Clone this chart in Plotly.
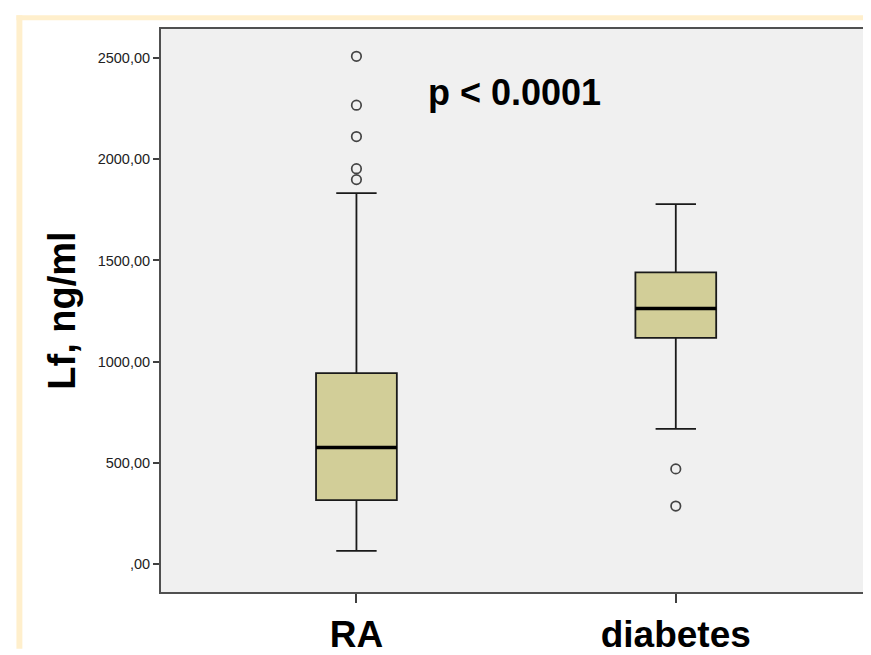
import plotly.graph_objects as go

# ---- data ----
categories = ["RA", "diabetes"]
q1_vals = [314, 1117]
median_vals = [575, 1262]
q3_vals = [943, 1441]
lower_whisker = [63, 667]
upper_whisker = [1833, 1779]

ra_outliers = [2510, 2268, 2113, 1954, 1900]
diabetes_outliers = [469, 285]

y_tickvals = [0, 500, 1000, 1500, 2000, 2500]
y_ticktext = [",00", "500,00", "1000,00", "1500,00", "2000,00", "2500,00"]

FONT = "Liberation Sans, Arial, sans-serif"

fig = go.Figure()

# main boxes
fig.add_trace(go.Box(
    x=categories,
    q1=q1_vals, median=median_vals, q3=q3_vals,
    lowerfence=lower_whisker, upperfence=upper_whisker,
    boxpoints=False,
    fillcolor="#D2CE98",
    line=dict(color="#1a1a1a", width=1.8),
    width=0.253,
    whiskerwidth=0.5,
    showlegend=False,
    hoverinfo="skip",
))

# thick median lines (degenerate boxes at the median)
fig.add_trace(go.Box(
    x=categories,
    q1=median_vals, median=median_vals, q3=median_vals,
    lowerfence=median_vals, upperfence=median_vals,
    boxpoints=False,
    fillcolor="rgba(0,0,0,0)",
    line=dict(color="#000000", width=3.5),
    width=0.253,
    whiskerwidth=1.0,
    showlegend=False,
    hoverinfo="skip",
))

# outliers
out_x = [categories[0]] * len(ra_outliers) + [categories[1]] * len(diabetes_outliers)
out_y = ra_outliers + diabetes_outliers
fig.add_trace(go.Scatter(
    x=out_x, y=out_y, mode="markers",
    marker=dict(symbol="circle-open", size=9.5, color="#444444", line=dict(width=1.7)),
    showlegend=False, hoverinfo="skip",
))

# light beige frame (top and left edges) - decoration
frame_col = "#FFEFCC"
fig.add_shape(type="rect", xref="paper", yref="paper",
              x0=-0.2042, x1=-0.1958, y0=-0.1007, y1=1.0243,
              fillcolor=frame_col, line=dict(width=0), layer="below")
fig.add_shape(type="rect", xref="paper", yref="paper",
              x0=-0.2042, x1=1.0113, y0=1.0156, y1=1.0243,
              fillcolor=frame_col, line=dict(width=0), layer="below")

fig.add_annotation(
    text="<b>p < 0.0001</b>", xref="paper", yref="paper",
    x=0.4986, y=0.887, xanchor="center", yanchor="middle",
    showarrow=False, font=dict(family=FONT, size=36, color="#000000"),
)

fig.update_layout(
    width=871, height=655,
    margin=dict(l=153, r=8, t=21, b=58),
    paper_bgcolor="#FFFFFF",
    plot_bgcolor="#F0F0F0",
    boxmode="overlay",
    font=dict(family=FONT, color="#000000"),
    xaxis=dict(
        type="category",
        range=[-0.612, 1.605],
        showgrid=False, zeroline=False,
        showline=True, mirror=True, linecolor="#505050", linewidth=2,
        ticks="outside", ticklen=9, tickwidth=1.5, tickcolor="#404040",
        tickfont=dict(family=FONT, size=37, color="#000000", weight="bold"),
    ),
    yaxis=dict(
        range=[-140, 2645],
        tickvals=y_tickvals, ticktext=y_ticktext,
        showgrid=False, zeroline=False,
        showline=True, mirror=True, linecolor="#505050", linewidth=2,
        ticks="outside", ticklen=6, tickwidth=1.5, tickcolor="#404040",
        tickfont=dict(family=FONT, size=14.5, color="#222222"),
        title=dict(text="<b>Lf, ng/ml</b>", standoff=10,
                   font=dict(family=FONT, size=38, color="#000000")),
    ),
)

fig.write_html("out.html")
